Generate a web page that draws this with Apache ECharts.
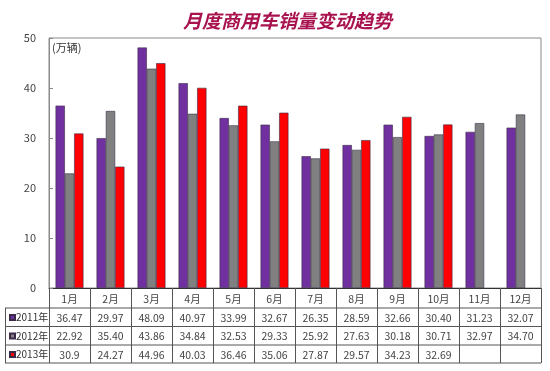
<!DOCTYPE html>
<html>
<head>
<meta charset="utf-8">
<script src="https://cdn.jsdelivr.net/npm/echarts@6/dist/echarts.min.js"></script>
<style>html,body{margin:0;padding:0;background:#fff}#c{width:550px;height:371px}</style>
</head>
<body>
<div id="c"></div>
<script>
const months = ['1月','2月','3月','4月','5月','6月','7月','8月','9月','10月','11月','12月'];
const seriesNames = ['2011年','2012年','2013年'];
const v2011 = ['36.47','29.97','48.09','40.97','33.99','32.67','26.35','28.59','32.66','30.40','31.23','32.07'];
const v2012 = ['22.92','35.40','43.86','34.84','32.53','29.33','25.92','27.63','30.18','30.71','32.97','34.70'];
const v2013 = ['30.9','24.27','44.96','40.03','36.46','35.06','27.87','29.57','34.23','32.69',null,null];
const yTicks = [0,10,20,30,40,50];

const colors = ['#7030A0','#808080','#FF0000'];
const font = '"Noto Sans CJK SC", "Noto Sans", sans-serif';
const chart = echarts.init(document.getElementById('c'));
const allVals = [v2011, v2012, v2013];

chart.setOption({
  animation: false,
  backgroundColor: '#fff',
  title: {
    text: '月度商用车销量变动趋势',
    left: 178, top: 6,
    textStyle: {fontSize: 19, fontWeight: 'bold', fontStyle: 'italic', color: '#A8124E', fontFamily: font}
  },
  legend: {
    data: seriesNames,
    orient: 'vertical',
    left: 4, top: 306.5,
    itemWidth: 5, itemHeight: 5, itemGap: 6.5,
    textStyle: {fontSize: 10, color: '#333', fontFamily: font, lineHeight: 12, padding: [0,0,0,-4]},
    icon: 'rect'
  },
  grid: {left: 49, right: 9, top: 38, bottom: 83, show: true, borderColor: '#8a8a8a', borderWidth: 1},
  xAxis: {
    type: 'category',
    data: months,
    boundaryGap: true,
    axisLine: {lineStyle: {color: '#333', width: 1}},
    axisTick: {show: true, interval: 0, length: 75, alignWithLabel: false, lineStyle: {color: '#555'}},
    axisLabel: {
      interval: 0, margin: 2,
      fontSize: 10.5, color: '#444', fontFamily: font, lineHeight: 18.5,
      formatter: function (val, idx) {
        return [val].concat(allVals.map(a => a[idx] == null ? ' ' : a[idx])).join('\n');
      }
    }
  },
  yAxis: {
    type: 'value', min: 0, max: 50, interval: 10,
    splitLine: {show: false},
    axisLine: {show: true, lineStyle: {color: '#8a8a8a'}},
    axisTick: {show: true, inside: true, length: 4, lineStyle: {color: '#8a8a8a'}},
    axisLabel: {fontSize: 11, color: '#444', margin: 13, fontFamily: font,
      formatter: v => yTicks.includes(v) ? String(v) : ''}
  },
  graphic: [
    {type: 'text', left: 52, top: 42, style: {text: '(万辆)', fontSize: 11, fill: '#333', fontFamily: font}},
    {type: 'line', shape: {x1: 5, y1: 308, x2: 541, y2: 308}, style: {stroke: '#555', lineWidth: 1}},
    {type: 'line', shape: {x1: 5, y1: 326.5, x2: 541, y2: 326.5}, style: {stroke: '#555', lineWidth: 1}},
    {type: 'line', shape: {x1: 5, y1: 345, x2: 541, y2: 345}, style: {stroke: '#555', lineWidth: 1}},
    {type: 'line', shape: {x1: 5, y1: 363, x2: 541, y2: 363}, style: {stroke: '#555', lineWidth: 1}},
    {type: 'line', shape: {x1: 5.5, y1: 308, x2: 5.5, y2: 363}, style: {stroke: '#555', lineWidth: 1}}
  ],
  series: seriesNames.map((n, i) => ({
    name: n,
    type: 'bar',
    data: allVals[i],
    barGap: '0%',
    barCategoryGap: '32%',
    itemStyle: {color: colors[i], borderColor: '#3b2b48', borderWidth: 0.6}
  }))
});
</script>
</body>
</html>
